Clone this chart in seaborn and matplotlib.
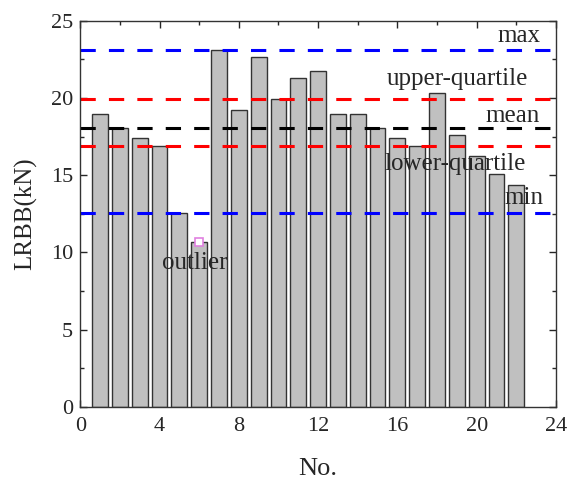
import pandas as pd
import matplotlib.pyplot as plt
import seaborn as sns
from matplotlib.ticker import MultipleLocator

# Data
no = list(range(1, 23))
lrbb = [18.97, 18.06, 17.38, 16.92, 12.58, 10.7, 23.1, 19.2, 22.63, 19.9, 21.27,
        21.72, 18.97, 18.97, 18.06, 17.38, 16.92, 20.35, 17.6, 16.23, 15.07, 14.38]
ref_names = ['max', 'upper-quartile', 'mean', 'lower-quartile', 'min']
ref_values = [23.1, 19.9, 18.04, 16.92, 12.58]
ref_colors = ['blue', 'red', 'black', 'red', 'blue']
outlier_no = [6]
outlier_val = [10.7]

df = pd.DataFrame({'No.': no, 'LRBB': lrbb})

sns.set_style('ticks')
plt.rcParams['font.family'] = ['Liberation Serif', 'DejaVu Serif']

fig = plt.figure(figsize=(5.69, 4.8), dpi=100)
ax = fig.add_axes([0.141, 0.152, 0.836, 0.805])

sns.barplot(data=df, x='No.', y='LRBB', native_scale=True, width=0.8,
            color='#c0c0c0', edgecolor='#333333', linewidth=1, saturation=1, ax=ax)

for v, c in zip(ref_values, ref_colors):
    ax.axhline(v, color=c, linestyle=(0, (5, 4.3)), linewidth=2.2)

ax.plot(outlier_no, outlier_val, 's', markersize=6, markerfacecolor='white',
        markeredgecolor='#e080e0', markeredgewidth=1.2)

# annotations
fs = 18
ax.text(23.2, 24.0, ref_names[0], ha='right', va='center', fontsize=fs)
ax.text(22.6, 21.25, ref_names[1], ha='right', va='center', fontsize=fs)
ax.text(23.2, 18.86, ref_names[2], ha='right', va='center', fontsize=fs)
ax.text(22.5, 15.7, ref_names[3], ha='right', va='center', fontsize=fs)
ax.text(23.35, 13.5, ref_names[4], ha='right', va='center', fontsize=fs)
ax.text(5.8, 9.3, 'outlier', ha='center', va='center', fontsize=fs)

ax.set_xlim(0, 24)
ax.set_ylim(0, 25)
ax.xaxis.set_major_locator(MultipleLocator(4))
ax.xaxis.set_minor_locator(MultipleLocator(2))
ax.yaxis.set_major_locator(MultipleLocator(5))
ax.yaxis.set_minor_locator(MultipleLocator(2.5))
ax.tick_params(which='both', direction='in', top=True, right=True, labelsize=16)
ax.tick_params(which='major', length=5, width=1)
ax.tick_params(which='minor', length=3, width=1)
ax.tick_params(axis='x', pad=7)
ax.tick_params(axis='y', pad=5)
for s in ax.spines.values():
    s.set_linewidth(1)
    s.set_color('#333333')
ax.set_xlabel('No.', fontsize=19, labelpad=16)
ax.set_ylabel('LRBB(kN)', fontsize=18, labelpad=10)

plt.savefig('out.png', dpi=100)
